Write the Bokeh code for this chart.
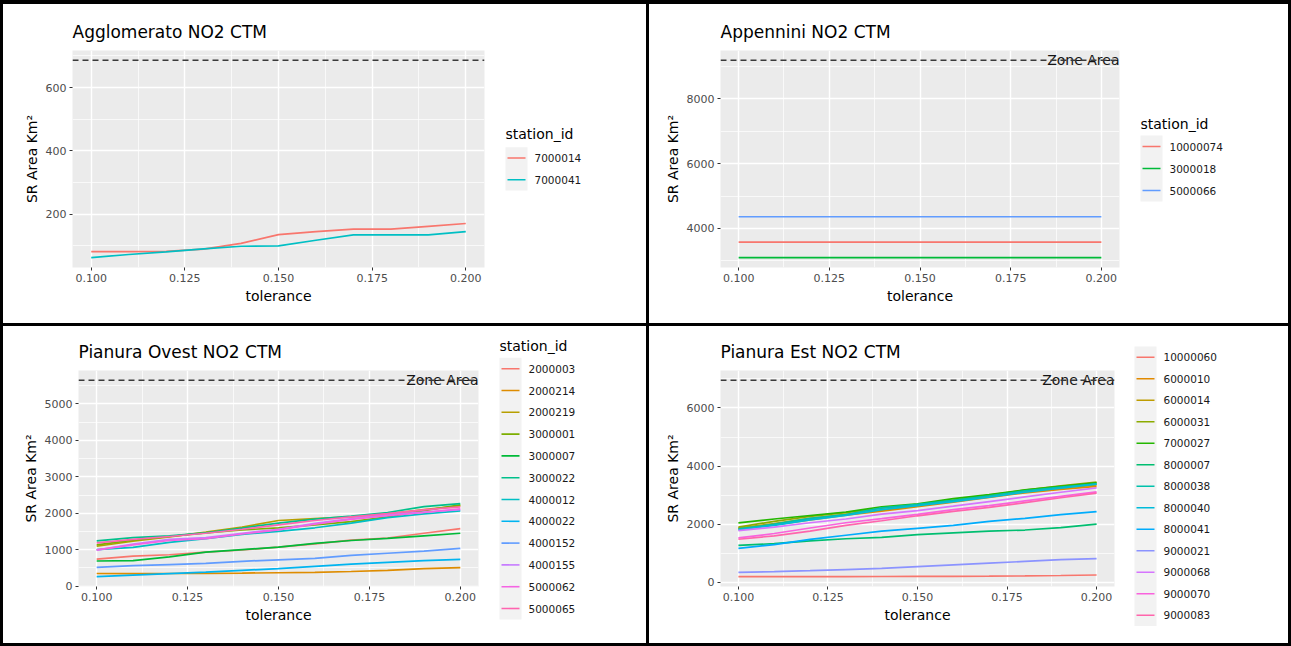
from bokeh.plotting import figure
from bokeh.models import Range1d, FixedTicker, NumeralTickFormatter, Span
from bokeh.layouts import row, column
from bokeh.embed import file_html
from bokeh.resources import INLINE
from bokeh.core.properties import value

# ---------------- data ----------------
tolerance = [0.10, 0.11, 0.12, 0.13, 0.14, 0.15, 0.16, 0.17, 0.18, 0.19, 0.20]
x_ticks = [0.100, 0.125, 0.150, 0.175, 0.200]
x_minor = [0.1125, 0.1375, 0.1625, 0.1875]

agg_title = "Agglomerato NO2 CTM"
agg_ids = ["7000014", "7000041"]
agg_values = [
    [81, 81, 82, 89, 107, 135, 144, 152, 152, 161, 170],
    [62, 72, 80, 90, 98, 99, 117, 134, 134, 134, 144],
]
agg_zone = 686
agg_yticks = [200, 400, 600]
agg_yminor = [100, 300, 500, 700]

app_title = "Appennini NO2 CTM"
app_ids = ["10000074", "3000018", "5000066"]
app_values = [
    [3580, 3580, 3580, 3580, 3580, 3580, 3580, 3580, 3580, 3580, 3580],
    [3098, 3098, 3098, 3098, 3098, 3098, 3098, 3098, 3098, 3098, 3098],
    [4360, 4360, 4360, 4360, 4360, 4360, 4360, 4360, 4360, 4360, 4360],
]
app_zone = 9190
app_yticks = [4000, 6000, 8000]
app_yminor = [3000, 5000, 7000, 9000]

ovest_title = "Pianura Ovest NO2 CTM"
ovest_ids = ["2000003", "2000214", "2000219", "3000001", "3000007", "3000022",
             "4000012", "4000022", "4000152", "4000155", "5000062", "5000065"]
ovest_values = [
    [740, 820, 860, 930, 990, 1070, 1160, 1260, 1320, 1450, 1578],
    [345, 340, 345, 350, 355, 365, 375, 400, 430, 480, 505],
    [1092, 1230, 1350, 1480, 1620, 1800, 1850, 1900, 1980, 2100, 2200],
    [1130, 1260, 1360, 1460, 1540, 1600, 1680, 1770, 1900, 2070, 2230],
    [688, 700, 800, 930, 1000, 1070, 1170, 1250, 1310, 1380, 1450],
    [1239, 1330, 1380, 1460, 1590, 1730, 1840, 1920, 2020, 2180, 2266],
    [1000, 1060, 1200, 1300, 1420, 1500, 1600, 1730, 1880, 1980, 2064],
    [257, 300, 340, 380, 430, 480, 540, 600, 650, 700, 734],
    [514, 560, 590, 620, 680, 720, 760, 840, 900, 960, 1037],
    [985, 1150, 1280, 1330, 1450, 1560, 1720, 1850, 1960, 2030, 2100],
    [991, 1130, 1250, 1300, 1430, 1540, 1700, 1830, 1930, 2020, 2119],
    [1183, 1280, 1360, 1450, 1560, 1680, 1800, 1900, 1990, 2090, 2174],
]
ovest_zone = 5650
ovest_yticks = [0, 1000, 2000, 3000, 4000, 5000]
ovest_yminor = [500, 1500, 2500, 3500, 4500, 5500]

est_title = "Pianura Est NO2 CTM"
est_ids = ["10000060", "6000010", "6000014", "6000031", "7000027", "8000007",
           "8000038", "8000040", "8000041", "9000021", "9000068", "9000070", "9000083"]
est_values = [
    [195, 195, 198, 200, 202, 205, 208, 212, 220, 235, 253],
    [1850, 1980, 2150, 2310, 2450, 2600, 2760, 2920, 3080, 3200, 3300],
    [1870, 2020, 2200, 2340, 2480, 2630, 2790, 2950, 3110, 3240, 3350],
    [1900, 2100, 2270, 2400, 2550, 2670, 2830, 3000, 3170, 3320, 3447],
    [2045, 2180, 2300, 2420, 2600, 2700, 2880, 3020, 3180, 3300, 3420],
    [1275, 1330, 1430, 1500, 1550, 1640, 1700, 1760, 1800, 1880, 2000],
    [1838, 2000, 2200, 2330, 2560, 2680, 2820, 2980, 3150, 3280, 3390],
    [1800, 1960, 2150, 2300, 2500, 2640, 2780, 2930, 3100, 3240, 3380],
    [1172, 1300, 1480, 1620, 1760, 1860, 1960, 2100, 2200, 2330, 2436],
    [345, 370, 400, 440, 480, 540, 600, 660, 720, 780, 816],
    [1781, 1900, 2050, 2180, 2350, 2470, 2620, 2780, 2940, 3100, 3252],
    [1528, 1680, 1870, 2050, 2190, 2340, 2500, 2640, 2800, 2960, 3114],
    [1482, 1600, 1760, 1960, 2120, 2290, 2440, 2580, 2740, 2910, 3068],
]
est_zone = 6950
est_yticks = [0, 2000, 4000, 6000]
est_yminor = [1000, 3000, 5000, 7000]

legend_title = "station_id"
zone_text = "Zone Area"

hue2 = ["#F8766D", "#00BFC4"]
hue3 = ["#F8766D", "#00BA38", "#619CFF"]
hue12 = ["#F8766D", "#DE8C00", "#B79F00", "#7CAE00", "#00BA38", "#00C08B",
         "#00BFC4", "#00B4F0", "#619CFF", "#C77CFF", "#F564E3", "#FF64B0"]
hue13 = ["#F8766D", "#E18A00", "#BE9C00", "#8CAB00", "#24B700", "#00BE70",
         "#00C1AB", "#00BBDA", "#00ACFC", "#8B93FF", "#D575FE", "#F962DD", "#FF65AC"]

FONT = "DejaVu Sans"


def no_align(fig):
    try:
        fig.frame_align = False
    except Exception:
        pass


def make_plot(title, values, colors, zone, yticks, yminor, PW, H, fl, fr, ft, fb,
              zone_label):
    xs = tolerance
    xpad = 0.05 * (max(xs) - min(xs))
    allv = [v for s in values for v in s] + [zone]
    ypad = 0.05 * (max(allv) - min(allv))
    p = figure(width=PW, height=H, title=title,
               x_range=Range1d(min(xs) - xpad, max(xs) + xpad),
               y_range=Range1d(min(allv) - ypad, max(allv) + ypad),
               output_backend="svg", toolbar_location=None,
               min_border_left=fl, min_border_right=PW - fr,
               min_border_top=ft, min_border_bottom=H - fb)
    no_align(p)
    p.title.text_font = FONT
    p.title.text_font_size = "17px"
    p.title.text_font_style = "normal"
    p.title.text_color = "black"
    p.title.align = "left"
    p.title.padding = 4
    p.title.offset = -4
    p.outline_line_color = None
    p.background_fill_color = "#EBEBEB"
    p.border_fill_color = "white"

    p.xaxis.ticker = FixedTicker(ticks=x_ticks, minor_ticks=x_minor)
    p.yaxis.ticker = FixedTicker(ticks=yticks, minor_ticks=yminor)
    p.xaxis.formatter = NumeralTickFormatter(format="0.000")
    p.xaxis.axis_label = "tolerance"
    p.yaxis.axis_label = "SR Area Km\u00b2"
    for ax in (p.xaxis[0], p.yaxis[0]):
        ax.axis_line_color = None
        ax.major_tick_line_color = "#333333"
        ax.major_tick_in = 0
        ax.major_tick_out = 3
        ax.minor_tick_line_color = None
        ax.major_label_text_font = FONT
        ax.major_label_text_font_size = "11px"
        ax.major_label_text_color = "#4D4D4D"
        ax.major_label_standoff = 2
        ax.axis_label_text_font = FONT
        ax.axis_label_text_font_size = "14px"
        ax.axis_label_text_font_style = "normal"
        ax.axis_label_text_color = "black"
        ax.axis_label_standoff = 3
    for g in (p.xgrid[0], p.ygrid[0]):
        g.grid_line_color = "white"
        g.grid_line_width = 1.4
        g.minor_grid_line_color = "white"
        g.minor_grid_line_width = 0.7

    for vals, c in zip(values, colors):
        p.line(xs, vals, line_color=c, line_width=1.7)

    p.add_layout(Span(location=zone, dimension="width", line_color="#3a3a3a",
                      line_dash="6 4", line_width=1.5))
    if zone_label:
        p.text(x=[max(xs) + xpad], y=[zone], text=[zone_text], text_align="right",
               text_baseline="alphabetic", text_font=value(FONT), text_font_size="14px",
               text_color="#151515")
    return p


def make_legend(ids, colors, LW, H, x0, by, rh, lty, show_title):
    lf = figure(width=LW, height=H, title=None, x_range=Range1d(0, LW),
                y_range=Range1d(H, 0), output_backend="svg", toolbar_location=None,
                min_border=0, x_axis_location=None, y_axis_location=None)
    no_align(lf)
    lf.grid.visible = False
    lf.outline_line_color = None
    lf.background_fill_color = "white"
    lf.border_fill_color = "white"
    n = len(ids)
    ys = [by + rh * (i + 0.5) for i in range(n)]
    lf.quad(left=[x0], right=[x0 + 22], top=[by], bottom=[by + n * rh],
            fill_color="#F2F2F2", line_color=None)
    lf.segment(x0=[x0 + 2] * n, x1=[x0 + 20] * n, y0=ys, y1=ys, line_color=colors,
               line_width=1.6)
    lf.text(x=[x0 + 29] * n, y=ys, text=ids, text_baseline="middle",
            text_font=value(FONT), text_font_size="10.5px", text_color="#1a1a1a")
    if show_title:
        lf.text(x=[x0], y=[lty], text=[legend_title], text_baseline="middle",
                text_font=value(FONT), text_font_size="14px", text_color="black")
    return lf


def make_panel(title, ids, values, colors, zone, yticks, yminor, geom,
               zone_label=True, show_title=True):
    W, H, fl, fr, ft, fb, bx, by, rh, lty = geom
    PW = bx - 8
    p = make_plot(title, values, colors, zone, yticks, yminor, PW, H, fl, fr, ft, fb,
                  zone_label)
    lf = make_legend(ids, colors, W - PW, H, bx - PW, by, rh, lty, show_title)
    return row(p, lf, spacing=0, styles={"background-color": "white"})


# geometry: W, H, frame_left, frame_right, frame_top, frame_bottom,
#           key_box_left, key_box_top, row_height, legend_title_y
g1 = (643, 319, 69, 481, 46, 263, 502, 142.7, 21.7, 129)
g2 = (639, 319, 71, 470, 46, 263, 491, 131, 22, 119)
g3 = (643, 317, 75, 475, 44, 260, 496, 31.3, 21.8, 19)
g4 = (639, 317, 71, 465, 44, 260, 485, 20, 21.5, 0)

p1 = make_panel(agg_title, agg_ids, agg_values, hue2, agg_zone, agg_yticks, agg_yminor,
                g1, zone_label=False)
p2 = make_panel(app_title, app_ids, app_values, hue3, app_zone, app_yticks, app_yminor, g2)
p3 = make_panel(ovest_title, ovest_ids, ovest_values, hue12, ovest_zone, ovest_yticks,
                ovest_yminor, g3)
p4 = make_panel(est_title, est_ids, est_values, hue13, est_zone, est_yticks, est_yminor,
                g4, show_title=False)

root = column(row(p1, p2, spacing=3), row(p3, p4, spacing=3), spacing=3,
              styles={"background-color": "black", "padding": "4px 3px 3px 3px"})

open("out.html", "w").write(file_html(root, INLINE))
